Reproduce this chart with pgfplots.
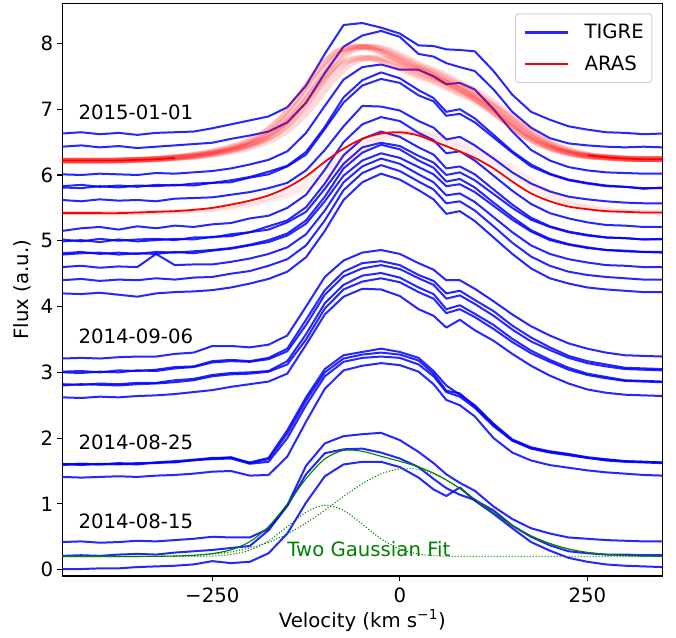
\documentclass[border=0pt]{standalone}
\usepackage{fontspec}
\setmainfont{DejaVu Sans}
\usepackage{pgfplots}
\pgfplotsset{compat=1.18}
\newcommand\fs{\fontsize{19.7}{23.6}\selectfont}
\definecolor{fitgreen}{rgb}{0,0.5,0}
\pgfplotsset{
 tigre/.style={draw=blue, draw opacity=0.85, line width=2pt, mark=none, line join=round, forget plot},
 bandu/.style={draw=red, draw opacity=0.15, line width=5.5pt, mark=none, smooth, forget plot},
 bandl/.style={draw=red, draw opacity=0.07, line width=4.5pt, mark=none, smooth, forget plot},
}
\begin{document}
\begin{tikzpicture}
\begin{axis}[
 scale only axis, width=600pt, height=572.7pt,
 xmin=-450, xmax=350, ymin=-0.096, ymax=8.61,
 axis line style={line width=1.1pt},
 tick align=outside, tick pos=left, major tick length=4.9pt,
 every tick/.style={black, line width=1.1pt},
 xtick={-250,0,250}, xticklabels={−250,0,250},
 ytick={0,1,2,3,4,5,6,7,8},
 /pgf/number format/assume math mode=true,
 ticklabel style={font=\fs},
 xticklabel style={anchor=north, inner sep=0pt, yshift=-6.8pt},
 yticklabel style={anchor=east, inner sep=0pt, xshift=-4.1pt},
 xlabel={Velocity (km s\textsuperscript{−1})},
 ylabel={Flux (a.u.)},
 every axis x label/.style={at={(axis description cs:0.5,-0.08975)}, anchor=base, font=\fs},
 every axis y label/.style={at={(axis description cs:-0.05667,0.5)}, anchor=base, rotate=90, font=\fs},
 legend style={at={(axis description cs:1,1)}, anchor=north east, xshift=-10pt, yshift=-10pt,
   font=\fs, draw=black!18, line width=1pt, rounded corners=3pt, fill=white, fill opacity=0.8, text opacity=1,
   inner xsep=8pt, inner ysep=10.5pt, row sep=15.6pt, column sep=15pt, nodes={inner xsep=0pt, inner ysep=0pt}},
 legend cell align=left,
 legend image code/.code={\draw[#1] (0pt,0pt) -- (43pt,0pt);},
]
% ---- 2015-01-01 group (TIGRE)
\addplot[tigre] coordinates {(-450,6.63)(-425,6.65)(-400,6.62)(-375,6.64)(-350,6.61)(-325,6.64)(-300,6.65)(-275,6.66)(-250,6.71)(-225,6.77)(-200,6.83)(-175,6.89)(-150,7.03)(-125,7.36)(-100,7.84)(-75,8.28)(-50,8.31)(-25,8.24)(0,8.15)(25,7.97)(45,7.96)(62,7.91)(80,7.90)(100,7.88)(125,7.58)(150,7.22)(175,6.96)(200,6.84)(225,6.74)(250,6.69)(275,6.65)(300,6.64)(325,6.62)(350,6.63)};
\addplot[tigre] coordinates {(-450,6.43)(-425,6.45)(-400,6.42)(-375,6.44)(-350,6.41)(-325,6.43)(-300,6.45)(-275,6.47)(-250,6.49)(-225,6.55)(-200,6.60)(-175,6.66)(-150,6.80)(-125,7.10)(-100,7.55)(-75,7.95)(-50,8.12)(-25,8.19)(0,8.10)(25,7.84)(45,7.80)(62,7.70)(80,7.64)(100,7.58)(125,7.30)(150,6.96)(175,6.72)(200,6.56)(225,6.48)(250,6.45)(275,6.43)(300,6.42)(325,6.43)(350,6.42)};
\addplot[tigre] coordinates {(-450,6.01)(-425,6.00)(-400,6.02)(-375,6.01)(-350,6.00)(-325,6.03)(-300,6.02)(-275,6.04)(-250,6.06)(-225,6.10)(-200,6.16)(-175,6.23)(-150,6.36)(-125,6.64)(-100,7.05)(-75,7.45)(-50,7.64)(-25,7.68)(0,7.60)(25,7.60)(45,7.50)(62,7.38)(80,7.40)(100,7.30)(125,7.00)(150,6.66)(175,6.38)(200,6.22)(225,6.12)(250,6.07)(275,6.04)(300,6.03)(325,6.02)(350,6.02)};
\addplot[tigre] coordinates {(-450,5.83)(-425,5.85)(-400,5.82)(-375,5.84)(-350,5.82)(-325,5.85)(-300,5.84)(-275,5.87)(-250,5.88)(-225,5.92)(-200,5.97)(-175,6.05)(-150,6.14)(-125,6.35)(-100,6.73)(-75,7.18)(-50,7.44)(-25,7.56)(0,7.47)(25,7.29)(45,7.17)(62,6.96)(80,7.00)(100,6.86)(125,6.61)(150,6.36)(175,6.16)(200,6.02)(225,5.93)(250,5.88)(275,5.84)(300,5.82)(325,5.80)(350,5.80)};
\addplot[tigre] coordinates {(-450,5.81)(-425,5.80)(-400,5.83)(-375,5.81)(-350,5.84)(-325,5.83)(-300,5.85)(-275,5.84)(-250,5.88)(-225,5.89)(-200,5.96)(-175,6.01)(-150,6.13)(-125,6.31)(-100,6.70)(-75,7.10)(-50,7.36)(-25,7.46)(0,7.40)(25,7.21)(45,7.12)(62,6.90)(80,6.93)(100,6.80)(125,6.57)(150,6.34)(175,6.13)(200,6.01)(225,5.92)(250,5.87)(275,5.83)(300,5.82)(325,5.79)(350,5.81)};
\addplot[tigre] coordinates {(-450,5.62)(-425,5.60)(-400,5.63)(-375,5.61)(-350,5.62)(-325,5.60)(-300,5.64)(-275,5.65)(-250,5.66)(-225,5.70)(-200,5.74)(-175,5.80)(-150,5.88)(-125,6.07)(-100,6.38)(-75,6.74)(-50,7.05)(-25,7.04)(0,6.98)(25,6.82)(45,6.72)(62,6.54)(80,6.58)(100,6.45)(125,6.25)(150,6.04)(175,5.87)(200,5.75)(225,5.67)(250,5.63)(275,5.60)(300,5.58)(325,5.57)(350,5.57)};
\addplot[tigre] coordinates {(-450,5.15)(-425,5.19)(-400,5.21)(-375,5.17)(-350,5.22)(-325,5.19)(-300,5.23)(-275,5.21)(-250,5.25)(-225,5.27)(-200,5.34)(-175,5.38)(-150,5.50)(-125,5.70)(-100,6.08)(-75,6.50)(-50,6.77)(-25,6.88)(0,6.82)(25,6.64)(45,6.53)(62,6.33)(80,6.36)(100,6.22)(125,5.99)(150,5.76)(175,5.56)(200,5.42)(225,5.34)(250,5.28)(275,5.24)(300,5.23)(325,5.21)(350,5.21)};
\addplot[tigre] coordinates {(-450,5.02)(-425,4.99)(-400,5.03)(-375,5.00)(-350,5.02)(-325,5.03)(-300,5.01)(-275,5.05)(-250,5.05)(-225,5.10)(-200,5.13)(-175,5.22)(-150,5.31)(-125,5.51)(-100,5.87)(-75,6.30)(-50,6.55)(-25,6.66)(0,6.58)(25,6.42)(45,6.31)(62,6.10)(80,6.13)(100,6.01)(125,5.78)(150,5.55)(175,5.35)(200,5.22)(225,5.14)(250,5.09)(275,5.05)(300,5.04)(325,5.02)(350,5.02)};
\addplot[tigre] coordinates {(-450,4.99)(-425,5.01)(-400,4.98)(-375,5.02)(-350,4.99)(-325,5.01)(-300,5.03)(-275,5.02)(-250,5.06)(-225,5.07)(-200,5.13)(-175,5.17)(-150,5.28)(-125,5.44)(-100,5.79)(-75,6.17)(-50,6.42)(-25,6.49)(0,6.44)(25,6.29)(45,6.19)(62,6.00)(80,6.04)(100,5.92)(125,5.71)(150,5.50)(175,5.32)(200,5.21)(225,5.13)(250,5.08)(275,5.05)(300,5.04)(325,5.02)(350,5.03)};
\addplot[tigre] coordinates {(-450,4.81)(-425,4.83)(-400,4.80)(-375,4.82)(-350,4.80)(-325,4.83)(-300,4.82)(-275,4.84)(-250,4.86)(-225,4.89)(-200,4.94)(-175,5.01)(-150,5.11)(-125,5.31)(-100,5.67)(-75,6.10)(-50,6.34)(-25,6.46)(0,6.39)(25,6.22)(45,6.11)(62,5.90)(80,5.94)(100,5.81)(125,5.58)(150,5.36)(175,5.16)(200,5.03)(225,4.95)(250,4.90)(275,4.86)(300,4.85)(325,4.83)(350,4.83)};
\addplot[tigre] coordinates {(-450,4.79)(-425,4.81)(-400,4.82)(-375,4.79)(-350,4.81)(-325,4.80)(-300,4.83)(-275,4.81)(-250,4.85)(-225,4.88)(-200,4.93)(-175,4.98)(-150,5.08)(-125,5.26)(-100,5.60)(-75,5.99)(-50,6.22)(-25,6.33)(0,6.26)(25,6.12)(45,6.01)(62,5.83)(80,5.86)(100,5.74)(125,5.53)(150,5.32)(175,5.14)(200,5.01)(225,4.94)(250,4.89)(275,4.86)(300,4.84)(325,4.83)(350,4.82)};
\addplot[tigre] coordinates {(-450,4.60)(-425,4.62)(-400,4.59)(-375,4.61)(-350,4.60)(-325,4.80)(-300,4.63)(-275,4.64)(-250,4.64)(-225,4.68)(-200,4.73)(-175,4.80)(-150,4.90)(-125,5.10)(-100,5.46)(-75,5.89)(-50,6.13)(-25,6.25)(0,6.17)(25,6.01)(45,5.89)(62,5.69)(80,5.72)(100,5.59)(125,5.36)(150,5.13)(175,4.93)(200,4.80)(225,4.72)(250,4.67)(275,4.63)(300,4.62)(325,4.60)(350,4.60)};
\addplot[tigre] coordinates {(-450,4.40)(-425,4.42)(-400,4.39)(-375,4.41)(-350,4.40)(-325,4.43)(-300,4.41)(-275,4.44)(-250,4.45)(-225,4.50)(-200,4.54)(-175,4.62)(-150,4.72)(-125,4.93)(-100,5.31)(-75,5.77)(-50,6.03)(-25,6.15)(0,6.06)(25,5.90)(45,5.78)(62,5.57)(80,5.60)(100,5.46)(125,5.22)(150,4.97)(175,4.76)(200,4.62)(225,4.53)(250,4.48)(275,4.45)(300,4.43)(325,4.41)(350,4.41)};
\addplot[tigre] coordinates {(-450,4.20)(-425,4.19)(-400,4.21)(-375,4.18)(-350,4.15)(-325,4.20)(-300,4.22)(-275,4.23)(-250,4.25)(-225,4.29)(-200,4.35)(-175,4.42)(-150,4.53)(-125,4.75)(-100,5.15)(-75,5.62)(-50,5.89)(-25,6.02)(0,5.93)(25,5.77)(45,5.63)(62,5.41)(80,5.45)(100,5.30)(125,5.05)(150,4.80)(175,4.58)(200,4.43)(225,4.35)(250,4.29)(275,4.26)(300,4.24)(325,4.22)(350,4.22)};
% ---- 2014-09-06 group
\addplot[tigre] coordinates {(-450,3.21)(-425,3.22)(-400,3.21)(-375,3.23)(-350,3.24)(-325,3.24)(-300,3.28)(-275,3.30)(-250,3.40)(-225,3.40)(-200,3.38)(-175,3.42)(-150,3.56)(-125,4.00)(-100,4.45)(-75,4.70)(-50,4.82)(-25,4.86)(0,4.80)(25,4.66)(45,4.56)(62,4.40)(80,4.40)(100,4.27)(125,4.08)(150,3.88)(175,3.70)(200,3.56)(225,3.44)(250,3.36)(275,3.30)(300,3.26)(325,3.25)(350,3.24)};
\addplot[tigre] coordinates {(-450,3.01)(-425,3.02)(-400,3.00)(-375,3.03)(-350,3.02)(-325,3.04)(-300,3.08)(-275,3.09)(-250,3.17)(-225,3.19)(-200,3.17)(-175,3.22)(-150,3.36)(-125,3.80)(-100,4.25)(-75,4.53)(-50,4.66)(-25,4.69)(0,4.63)(25,4.48)(45,4.39)(62,4.20)(80,4.24)(100,4.10)(125,3.93)(150,3.71)(175,3.53)(200,3.38)(225,3.25)(250,3.17)(275,3.12)(300,3.07)(325,3.06)(350,3.05)};
\addplot[tigre] coordinates {(-450,3.00)(-425,2.99)(-400,3.01)(-375,3.00)(-350,3.03)(-325,3.02)(-300,3.06)(-275,3.08)(-250,3.15)(-225,3.17)(-200,3.16)(-175,3.20)(-150,3.32)(-125,3.72)(-100,4.18)(-75,4.46)(-50,4.58)(-25,4.63)(0,4.57)(25,4.43)(45,4.33)(62,4.12)(80,4.17)(100,4.04)(125,3.86)(150,3.65)(175,3.47)(200,3.34)(225,3.22)(250,3.14)(275,3.09)(300,3.05)(325,3.04)(350,3.03)};
\addplot[tigre] coordinates {(-450,2.82)(-425,2.81)(-400,2.83)(-375,2.82)(-350,2.84)(-325,2.84)(-300,2.88)(-275,2.90)(-250,2.96)(-225,2.99)(-200,3.00)(-175,3.02)(-150,3.17)(-125,3.58)(-100,4.05)(-75,4.33)(-50,4.47)(-25,4.51)(0,4.44)(25,4.29)(45,4.19)(62,3.96)(80,4.02)(100,3.89)(125,3.72)(150,3.51)(175,3.33)(200,3.19)(225,3.07)(250,2.98)(275,2.93)(300,2.88)(325,2.87)(350,2.86)};
\addplot[tigre] coordinates {(-450,2.80)(-425,2.82)(-400,2.81)(-375,2.80)(-350,2.82)(-325,2.83)(-300,2.85)(-275,2.88)(-250,2.94)(-225,2.97)(-200,2.98)(-175,3.01)(-150,3.12)(-125,3.50)(-100,3.97)(-75,4.26)(-50,4.38)(-25,4.43)(0,4.37)(25,4.22)(45,4.12)(62,3.90)(80,3.96)(100,3.84)(125,3.66)(150,3.46)(175,3.29)(200,3.16)(225,3.04)(250,2.96)(275,2.91)(300,2.87)(325,2.86)(350,2.85)};
\addplot[tigre] coordinates {(-450,2.62)(-425,2.61)(-400,2.63)(-375,2.62)(-350,2.64)(-325,2.65)(-300,2.67)(-275,2.70)(-250,2.73)(-225,2.78)(-200,2.82)(-175,2.86)(-150,2.98)(-125,3.42)(-100,3.88)(-75,4.15)(-50,4.27)(-25,4.26)(0,4.16)(25,3.96)(45,3.86)(62,3.68)(80,3.80)(100,3.64)(125,3.48)(150,3.28)(175,3.10)(200,2.95)(225,2.83)(250,2.74)(275,2.69)(300,2.66)(325,2.65)(350,2.64)};
% ---- 2014-08-25 group
\addplot[tigre] coordinates {(-450,1.60)(-425,1.61)(-400,1.60)(-375,1.62)(-350,1.61)(-325,1.63)(-300,1.65)(-275,1.67)(-250,1.70)(-225,1.70)(-200,1.63)(-175,1.70)(-150,2.12)(-125,2.62)(-100,3.05)(-75,3.26)(-50,3.31)(-25,3.36)(0,3.31)(25,3.22)(45,3.02)(62,2.80)(80,2.66)(100,2.50)(125,2.22)(150,1.98)(175,1.86)(200,1.80)(225,1.76)(250,1.71)(275,1.68)(300,1.65)(325,1.64)(350,1.63)};
\addplot[tigre] coordinates {(-450,1.61)(-425,1.59)(-400,1.61)(-375,1.60)(-350,1.62)(-325,1.62)(-300,1.64)(-275,1.66)(-250,1.69)(-225,1.71)(-200,1.62)(-175,1.68)(-150,2.07)(-125,2.57)(-100,3.00)(-75,3.21)(-50,3.27)(-25,3.30)(0,3.27)(25,3.18)(45,2.98)(62,2.72)(80,2.68)(100,2.48)(125,2.20)(150,1.97)(175,1.85)(200,1.79)(225,1.75)(250,1.70)(275,1.67)(300,1.65)(325,1.64)(350,1.63)};
\addplot[tigre] coordinates {(-450,1.59)(-425,1.61)(-400,1.60)(-375,1.61)(-350,1.60)(-325,1.63)(-300,1.63)(-275,1.67)(-250,1.68)(-225,1.69)(-200,1.61)(-175,1.64)(-150,2.00)(-125,2.50)(-100,2.94)(-75,3.16)(-50,3.22)(-25,3.24)(0,3.22)(25,3.12)(45,2.94)(62,2.70)(80,2.63)(100,2.46)(125,2.18)(150,1.96)(175,1.84)(200,1.78)(225,1.74)(250,1.70)(275,1.66)(300,1.64)(325,1.63)(350,1.62)};
\addplot[tigre] coordinates {(-450,1.41)(-425,1.40)(-400,1.41)(-375,1.42)(-350,1.41)(-325,1.43)(-300,1.44)(-275,1.46)(-250,1.49)(-225,1.50)(-200,1.43)(-175,1.44)(-150,1.72)(-125,2.25)(-100,2.75)(-75,3.03)(-50,3.10)(-25,3.14)(0,3.11)(25,3.01)(45,2.82)(62,2.58)(80,2.50)(100,2.33)(125,2.00)(150,1.78)(175,1.66)(200,1.59)(225,1.55)(250,1.51)(275,1.48)(300,1.46)(325,1.44)(350,1.43)};
% ---- 2014-08-15 group
\addplot[tigre] coordinates {(-450,0.42)(-425,0.43)(-400,0.41)(-375,0.42)(-350,0.44)(-325,0.43)(-300,0.45)(-275,0.47)(-250,0.50)(-225,0.49)(-200,0.49)(-175,0.62)(-150,0.98)(-125,1.58)(-100,1.92)(-75,2.03)(-50,2.06)(-25,2.08)(0,1.97)(25,1.79)(45,1.62)(62,1.45)(80,1.32)(100,1.20)(125,0.96)(150,0.77)(175,0.63)(200,0.55)(225,0.49)(250,0.47)(275,0.45)(300,0.44)(325,0.43)(350,0.43)};
\addplot[tigre] coordinates {(-450,0.21)(-425,0.22)(-400,0.21)(-375,0.23)(-350,0.24)(-325,0.23)(-300,0.26)(-275,0.28)(-250,0.30)(-225,0.33)(-200,0.36)(-175,0.60)(-150,0.97)(-125,1.45)(-100,1.77)(-75,1.83)(-50,1.84)(-25,1.78)(0,1.69)(25,1.56)(45,1.38)(62,1.24)(80,1.14)(100,1.06)(125,0.90)(150,0.67)(175,0.50)(200,0.37)(225,0.28)(250,0.25)(275,0.23)(300,0.23)(325,0.22)(350,0.22)};
\addplot[tigre] coordinates {(-450,0.01)(-425,0.01)(-400,0.02)(-375,0.02)(-350,0.04)(-325,0.05)(-300,0.06)(-275,0.08)(-250,0.13)(-225,0.10)(-200,0.12)(-175,0.25)(-150,0.55)(-125,1.02)(-100,1.42)(-75,1.60)(-50,1.64)(-25,1.64)(0,1.56)(25,1.40)(45,1.22)(62,1.12)(80,1.25)(100,1.05)(125,0.85)(150,0.63)(175,0.42)(200,0.29)(225,0.18)(250,0.12)(275,0.08)(300,0.06)(325,0.05)(350,0.04)};
% ---- ARAS upper (band of fits)
\addplot[bandu] coordinates {(-462,6.22)(-437,6.22)(-412,6.22)(-387,6.22)(-362,6.23)(-337,6.24)(-312,6.26)(-287,6.29)(-262,6.33)(-237,6.39)(-212,6.47)(-187,6.60)(-162,6.82)(-137,7.15)(-112,7.55)(-87,7.85)(-62,7.95)(-37,7.92)(-12,7.80)(13,7.66)(38,7.55)(63,7.40)(88,7.25)(113,7.06)(138,6.84)(163,6.62)(188,6.46)(213,6.36)(238,6.30)(263,6.27)(288,6.25)(313,6.24)(338,6.24)(363,6.24)};
\addplot[bandu] coordinates {(-456,6.22)(-431,6.22)(-406,6.22)(-381,6.22)(-356,6.23)(-331,6.24)(-306,6.26)(-281,6.29)(-256,6.33)(-231,6.39)(-206,6.47)(-181,6.60)(-156,6.82)(-131,7.15)(-106,7.55)(-81,7.85)(-56,7.95)(-31,7.92)(-6,7.80)(19,7.66)(44,7.55)(69,7.40)(94,7.25)(119,7.06)(144,6.84)(169,6.62)(194,6.46)(219,6.36)(244,6.30)(269,6.27)(294,6.25)(319,6.24)(344,6.24)(370,6.24)};
\addplot[bandu] coordinates {(-450,6.22)(-425,6.22)(-400,6.22)(-375,6.22)(-350,6.23)(-325,6.24)(-300,6.26)(-275,6.29)(-250,6.33)(-225,6.39)(-200,6.47)(-175,6.60)(-150,6.82)(-125,7.15)(-100,7.55)(-75,7.85)(-50,7.95)(-25,7.92)(0,7.80)(25,7.66)(50,7.55)(75,7.40)(100,7.25)(125,7.06)(150,6.84)(175,6.62)(200,6.46)(225,6.36)(250,6.30)(275,6.27)(300,6.25)(325,6.24)(350,6.24)};
\addplot[bandu] coordinates {(-470,6.22)(-444,6.22)(-419,6.22)(-394,6.22)(-369,6.22)(-344,6.23)(-319,6.24)(-294,6.26)(-269,6.29)(-244,6.33)(-219,6.39)(-194,6.47)(-169,6.60)(-144,6.82)(-119,7.15)(-94,7.55)(-69,7.85)(-44,7.95)(-19,7.92)(6,7.80)(31,7.66)(56,7.55)(81,7.40)(106,7.25)(131,7.06)(156,6.84)(181,6.62)(206,6.46)(231,6.36)(256,6.30)(281,6.27)(306,6.25)(331,6.24)(356,6.24)};
\addplot[bandu] coordinates {(-470,6.22)(-438,6.22)(-413,6.22)(-388,6.22)(-363,6.23)(-338,6.24)(-313,6.26)(-288,6.29)(-263,6.33)(-238,6.39)(-213,6.47)(-188,6.60)(-163,6.82)(-138,7.15)(-113,7.55)(-88,7.85)(-63,7.95)(-38,7.92)(-13,7.80)(12,7.66)(37,7.55)(62,7.40)(87,7.25)(112,7.06)(137,6.84)(162,6.62)(187,6.46)(212,6.36)(237,6.30)(262,6.27)(287,6.25)(312,6.24)(337,6.24)(362,6.24)};
\addplot[bandu] coordinates {(-456,6.22)(-431,6.22)(-406,6.22)(-381,6.22)(-356,6.23)(-331,6.24)(-306,6.26)(-281,6.28)(-256,6.32)(-231,6.37)(-206,6.45)(-181,6.56)(-156,6.76)(-131,7.06)(-106,7.42)(-81,7.69)(-56,7.78)(-31,7.75)(-6,7.64)(19,7.52)(44,7.42)(69,7.28)(94,7.15)(119,6.98)(144,6.78)(169,6.58)(194,6.44)(219,6.35)(244,6.29)(269,6.27)(294,6.25)(319,6.24)(344,6.24)(370,6.24)};
\addplot[bandu] coordinates {(-450,6.22)(-425,6.22)(-400,6.22)(-375,6.22)(-350,6.23)(-325,6.24)(-300,6.26)(-275,6.28)(-250,6.32)(-225,6.37)(-200,6.45)(-175,6.56)(-150,6.76)(-125,7.06)(-100,7.42)(-75,7.69)(-50,7.78)(-25,7.75)(0,7.64)(25,7.52)(50,7.42)(75,7.28)(100,7.15)(125,6.98)(150,6.78)(175,6.58)(200,6.44)(225,6.35)(250,6.29)(275,6.27)(300,6.25)(325,6.24)(350,6.24)};
\addplot[bandu] coordinates {(-470,6.22)(-440,6.22)(-415,6.22)(-390,6.22)(-365,6.22)(-340,6.23)(-315,6.24)(-290,6.26)(-265,6.28)(-240,6.32)(-215,6.37)(-190,6.45)(-165,6.56)(-140,6.76)(-115,7.06)(-90,7.42)(-65,7.69)(-40,7.78)(-15,7.75)(10,7.64)(35,7.52)(60,7.42)(85,7.28)(110,7.15)(135,6.98)(160,6.78)(185,6.58)(210,6.44)(235,6.35)(260,6.29)(285,6.27)(310,6.25)(335,6.24)(360,6.24)};
\addplot[draw=red, line width=1.8pt, smooth, forget plot] coordinates {(-450,6.22)(-425,6.22)(-400,6.22)(-375,6.22)(-350,6.23)(-325,6.24)(-300,6.26)};
\addplot[draw=red, line width=1.8pt, smooth, forget plot] coordinates {(250,6.30)(275,6.27)(300,6.25)(325,6.24)(350,6.24)};
% ---- ARAS lower
\addplot[bandl] coordinates {(-470,5.42)(-436,5.42)(-411,5.42)(-386,5.42)(-361,5.42)(-336,5.43)(-311,5.44)(-286,5.45)(-261,5.47)(-236,5.50)(-211,5.55)(-186,5.61)(-161,5.69)(-136,5.81)(-111,5.98)(-86,6.20)(-61,6.40)(-36,6.55)(-11,6.63)(14,6.65)(39,6.60)(64,6.49)(89,6.38)(114,6.26)(139,6.10)(164,5.90)(189,5.72)(214,5.60)(239,5.52)(264,5.48)(289,5.45)(314,5.44)(339,5.43)(364,5.43)};
\addplot[bandl] coordinates {(-470,5.42)(-422,5.42)(-397,5.42)(-372,5.42)(-347,5.42)(-322,5.43)(-297,5.44)(-272,5.45)(-247,5.47)(-222,5.50)(-197,5.55)(-172,5.61)(-147,5.69)(-122,5.81)(-97,5.98)(-72,6.20)(-47,6.40)(-22,6.55)(3,6.63)(28,6.65)(53,6.60)(78,6.49)(103,6.38)(128,6.26)(153,6.10)(178,5.90)(203,5.72)(228,5.60)(253,5.52)(278,5.48)(303,5.45)(328,5.44)(353,5.43)};
\addplot[draw=red, line width=1.8pt, smooth, forget plot] coordinates {(-450,5.42)(-425,5.42)(-400,5.42)(-375,5.42)(-350,5.43)(-325,5.44)(-300,5.45)(-275,5.47)(-250,5.50)(-225,5.55)(-200,5.61)(-175,5.69)(-150,5.81)(-125,5.98)(-100,6.20)(-75,6.40)(-50,6.55)(-25,6.63)(0,6.65)(25,6.60)(50,6.49)(75,6.38)(100,6.26)(125,6.10)(150,5.90)(175,5.72)(200,5.60)(225,5.52)(250,5.48)(275,5.45)(300,5.44)(325,5.43)(350,5.43)};
% ---- Two Gaussian fit
\addplot[draw=fitgreen, line width=1.1pt, smooth, forget plot] coordinates {(-450,0.200)(-425,0.200)(-400,0.200)(-375,0.200)(-350,0.201)(-325,0.203)(-300,0.208)(-275,0.219)(-250,0.245)(-225,0.302)(-200,0.426)(-175,0.656)(-150,0.998)(-125,1.383)(-100,1.684)(-75,1.814)(-50,1.799)(-25,1.724)(0,1.647)(25,1.562)(50,1.441)(75,1.273)(100,1.072)(125,0.864)(150,0.673)(175,0.515)(200,0.397)(225,0.315)(250,0.263)(275,0.232)(300,0.215)(325,0.207)(350,0.203)};
\addplot[draw=fitgreen, line width=1.1pt, dash pattern=on 1.1pt off 1.9pt, smooth, forget plot] coordinates {(-450,0.200)(-425,0.200)(-400,0.200)(-375,0.200)(-350,0.200)(-325,0.200)(-300,0.200)(-275,0.202)(-250,0.208)(-225,0.231)(-200,0.297)(-175,0.438)(-150,0.654)(-125,0.874)(-100,0.979)(-75,0.902)(-50,0.692)(-25,0.469)(0,0.314)(25,0.238)(50,0.210)(75,0.202)(100,0.200)(125,0.200)(150,0.200)(175,0.200)(200,0.200)(225,0.200)(250,0.200)(275,0.200)(300,0.200)(325,0.200)(350,0.200)};
\addplot[draw=fitgreen, line width=1.1pt, dash pattern=on 1.1pt off 1.9pt, smooth, forget plot] coordinates {(-450,0.200)(-425,0.200)(-400,0.200)(-375,0.200)(-350,0.201)(-325,0.203)(-300,0.208)(-275,0.218)(-250,0.237)(-225,0.271)(-200,0.329)(-175,0.417)(-150,0.544)(-125,0.709)(-100,0.904)(-75,1.113)(-50,1.307)(-25,1.456)(0,1.533)(25,1.524)(50,1.431)(75,1.271)(100,1.071)(125,0.864)(150,0.673)(175,0.515)(200,0.397)(225,0.315)(250,0.263)(275,0.232)(300,0.215)(325,0.207)(350,0.203)};
% ---- legend
\addlegendimage{draw=blue, draw opacity=0.85, line width=3pt}
\addlegendentry{TIGRE}
\addlegendimage{draw=red, line width=2pt}
\addlegendentry{ARAS}
% ---- annotations
\node[anchor=west, inner sep=0pt, font=\fs] at (axis cs:-428.5,6.948) {2015-01-01};
\node[anchor=west, inner sep=0pt, font=\fs] at (axis cs:-428.5,3.555) {2014-09-06};
\node[anchor=west, inner sep=0pt, font=\fs] at (axis cs:-428.5,1.938) {2014-08-25};
\node[anchor=west, inner sep=0pt, font=\fs] at (axis cs:-428.5,0.737) {2014-08-15};
\node[anchor=west, inner sep=0pt, font=\fs, text=fitgreen] at (axis cs:-150.1,0.318) {Two Gaussian Fit};
\end{axis}
\pgfresetboundingbox
\path ([shift={(-62.3pt,-61pt)}]current axis.south west) rectangle ([shift={(13.7pt,3.3pt)}]current axis.north east);
\end{tikzpicture}
\end{document}
